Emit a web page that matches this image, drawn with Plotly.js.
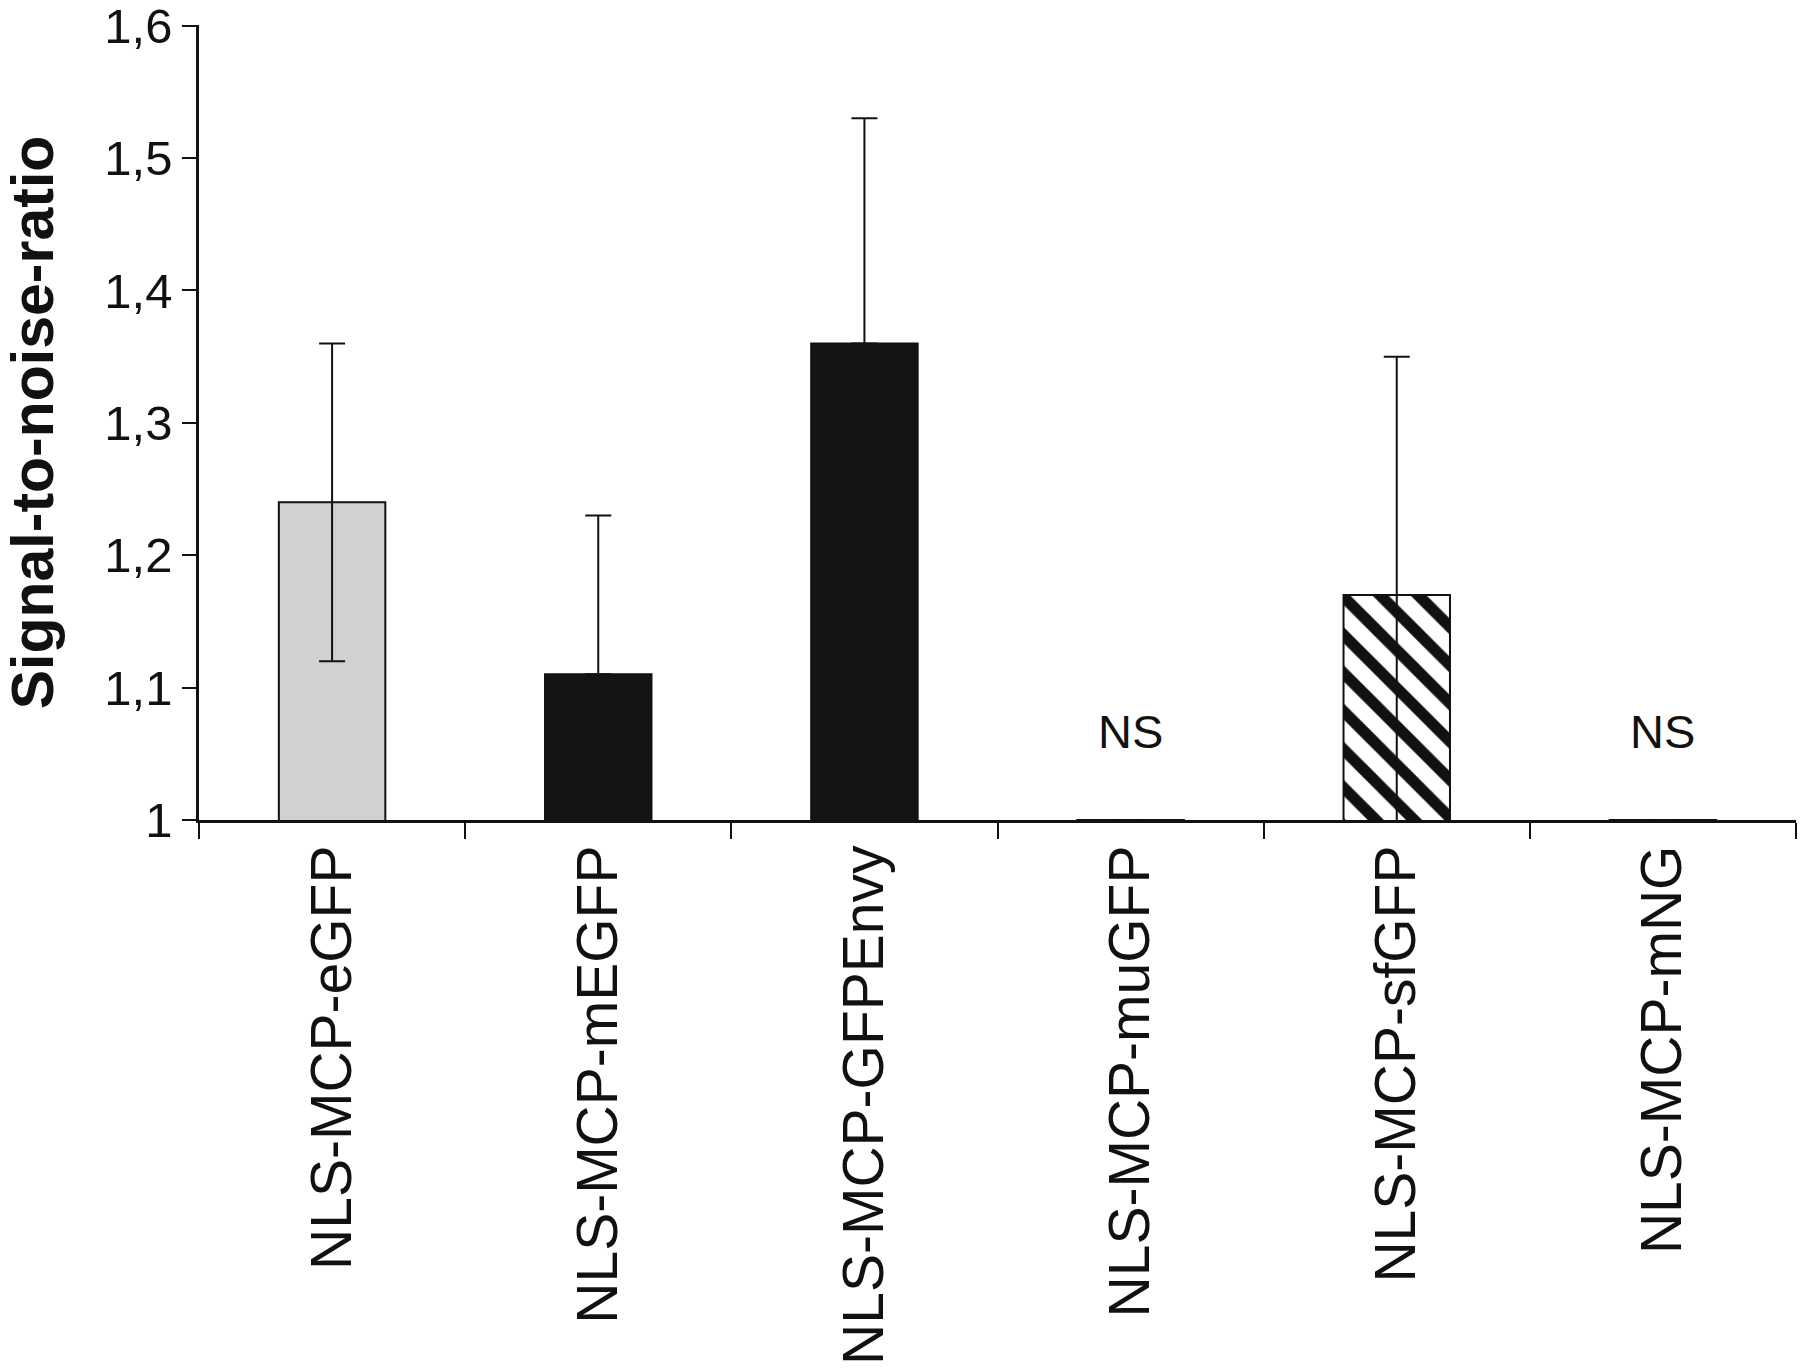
<!DOCTYPE html>
<html lang="en">
<head>
    <meta charset="utf-8">
    <script src="https://cdn.plot.ly/plotly-3.0.1.min.js"></script>
    <title>Signal-to-noise-ratio</title>
    <style>
        body { margin: 0; background: #fff; }
        #divBar { width: 1800px; height: 1372px; }
    </style>
</head>
<body>
    <div id="divBar"></div>
    <script>
        // categories and values
        var constructs = ['NLS-MCP-eGFP', 'NLS-MCP-mEGFP', 'NLS-MCP-GFPEnvy', 'NLS-MCP-muGFP', 'NLS-MCP-sfGFP', 'NLS-MCP-mNG'];
        var snr = [1.24, 1.11, 1.36, 1.0, 1.17, 1.0];
        var snrErrUp = [0.12, 0.12, 0.17, 0, 0.18, 0];
        var snrErrDown = [0.12, 0, 0, 0, 0.18, 0];
        var barColors = ['#d0d2d1', '#141414', '#141414', '#ffffff', 'rgba(0,0,0,0)', '#ffffff'];
        var hatched = [false, false, false, false, true, false];
        var nsLabels = ['', '', '', 'NS', '', 'NS'];
        var yTickVals = [1, 1.1, 1.2, 1.3, 1.4, 1.5, 1.6];
        var yTickText = ['1', '1,1', '1,2', '1,3', '1,4', '1,5', '1,6'];

        // hatched bars go underneath, the outlined bars + error bars on top
        var hatchX = [], hatchY = [];
        for (var i = 0; i < constructs.length; i++) {
            if (hatched[i]) { hatchX.push(constructs[i]); hatchY.push(snr[i]); }
        }
        var trace0 = {
            type: 'bar',
            x: hatchX,
            y: hatchY,
            width: 0.4,
            marker: {
                color: '#ffffff',
                line: {width: 0},
                pattern: {shape: '\\', fgcolor: '#111111', size: 27, solidity: 0.42}
            },
            hoverinfo: 'skip'
        };

        var trace1 = {
            type: 'bar',
            x: constructs,
            y: snr,
            width: 0.4,
            marker: {
                color: barColors,
                line: {color: '#111', width: 2}
            },
            error_y: {type: 'data', array: snrErrUp, arrayminus: snrErrDown, symmetric: false,
                      color: '#111', thickness: 2, width: 13},
            hoverinfo: 'x+y'
        };

        var notes = [];
        for (var i = 0; i < constructs.length; i++) {
            if (nsLabels[i]) {
                notes.push({
                    x: constructs[i], y: 1.067, xref: 'x', yref: 'y',
                    text: nsLabels[i], showarrow: false,
                    font: {family: 'Liberation Sans, Arial, sans-serif', size: 47, color: '#111'}
                });
            }
        }

        var layout = {
            width: 1800,
            height: 1372,
            margin: {l: 199, r: 4, t: 25, b: 552},
            paper_bgcolor: '#fff',
            plot_bgcolor: '#fff',
            showlegend: false,
            barmode: 'overlay',
            font: {family: 'Liberation Sans, Arial, sans-serif', color: '#111'},
            annotations: notes,
            xaxis: {
                type: 'category',
                categoryorder: 'array', categoryarray: constructs,
                showline: true, linecolor: '#111', linewidth: 2.5,
                ticks: 'outside', tickson: 'boundaries', ticklen: 16, tickwidth: 2, tickcolor: '#111',
                tickangle: -90,
                tickfont: {size: 57, color: '#111'},
                showgrid: false, zeroline: false
            },
            yaxis: {
                range: [1, 1.6005],
                tickvals: yTickVals,
                ticktext: yTickText,
                ticklabeloverflow: 'allow',
                showline: true, linecolor: '#111', linewidth: 2.5,
                ticks: 'outside', ticklen: 14, tickwidth: 2, tickcolor: '#111',
                tickfont: {size: 49, color: '#111'},
                showgrid: false, zeroline: false,
                title: {text: '<b>Signal-to-noise-ratio</b>', font: {size: 59, color: '#111'}, standoff: 38}
            }
        };
        var config = {responsive: false, displayModeBar: false};
        Plotly.newPlot('divBar', [trace0, trace1], layout, config);
    </script>
</body>
</html>
